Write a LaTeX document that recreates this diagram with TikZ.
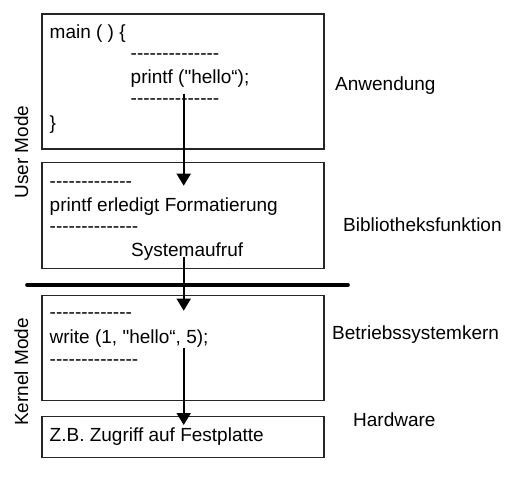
\documentclass[tikz,border=0pt]{standalone}
\usepackage{fontspec}
\newfontfamily\af{Liberation Sans}
\usetikzlibrary{arrows.meta}
\begin{document}
\begin{tikzpicture}[x=1pt,y=-1pt,
  box/.style={draw=black!85,line width=1.1pt,inner sep=0pt},
  txt/.style={inner sep=0pt,anchor=base west,font=\af\fontsize{19}{22}\selectfont},
  side/.style={inner sep=0pt,anchor=base,rotate=90,font=\af\fontsize{19}{22}\selectfont},
  flow/.style={line width=1.8pt,-{Triangle[width=14pt,length=12pt]}},
  sep/.style={line width=3.6pt,line cap=round}]
\useasboundingbox (0,0) rectangle (518,481);
% boxes
\node[box,minimum width=282pt,minimum height=135pt] (b1) at (183,81.5) {};
\node[box,minimum width=282pt,minimum height=105.5pt] (b2) at (183,215.3) {};
\node[box,minimum width=282pt,minimum height=105.5pt] (b3) at (183,348) {};
\node[box,minimum width=282pt,minimum height=41.5pt] (b4) at (183,436.8) {};
% separator
\coordinate (s1) at (27,285);
\coordinate (s2) at (348,285);
\draw[sep] (s1) -- (s2);
% box 1 texts
\node[txt] (t1a) at (49.5,38.5) {main ( ) \{};
\node[txt] (t1b) at (130.5,60) {--------------};
\node[txt] (t1c) at (130.5,84) {printf ("hello“);};
\node[txt] (t1d) at (130.5,105) {--------------};
\node[txt] (t1e) at (49.5,129) {\}};
\node[txt] (l1) at (335,90.5) {Anwendung};
% box 2 texts
\node[txt] (t2a) at (49.5,187) {-------------};
\node[txt] (t2b) at (49.5,211.5) {printf erledigt Formatierung};
\node[txt] (t2c) at (49.5,232) {--------------};
\node[txt] (t2d) at (131,256) {Systemaufruf};
\node[txt] (l2) at (343,231.5) {Bibliotheksfunktion};
% box 3 texts
\node[txt] (t3a) at (49.5,318) {-------------};
\node[txt] (t3b) at (49.5,343.3) {write (1, "hello“, 5);};
\node[txt] (t3c) at (49.5,365) {--------------};
\node[txt] (l3) at (332,339.3) {Betriebssystemkern};
% box 4
\node[txt] (t4a) at (49.5,441) {Z.B. Zugriff auf Festplatte};
\node[txt] (l4) at (353,426) {Hardware};
% side labels
\node[side] (um) at (28,152) {User Mode};
\node[side] (km) at (28,372) {Kernel Mode};
% arrows
\coordinate (a1s) at (183.7,93.7);
\coordinate (a1e) at (183.7,185.7);
\coordinate (a2s) at (183.7,256.7);
\coordinate (a2e) at (183.7,310.7);
\coordinate (a3s) at (183.7,348);
\coordinate (a3e) at (183.7,425);
\draw[flow] (a1s) -- (a1e);
\draw[flow] (a2s) -- (a2e);
\draw[flow] (a3s) -- (a3e);
\end{tikzpicture}
\end{document}
